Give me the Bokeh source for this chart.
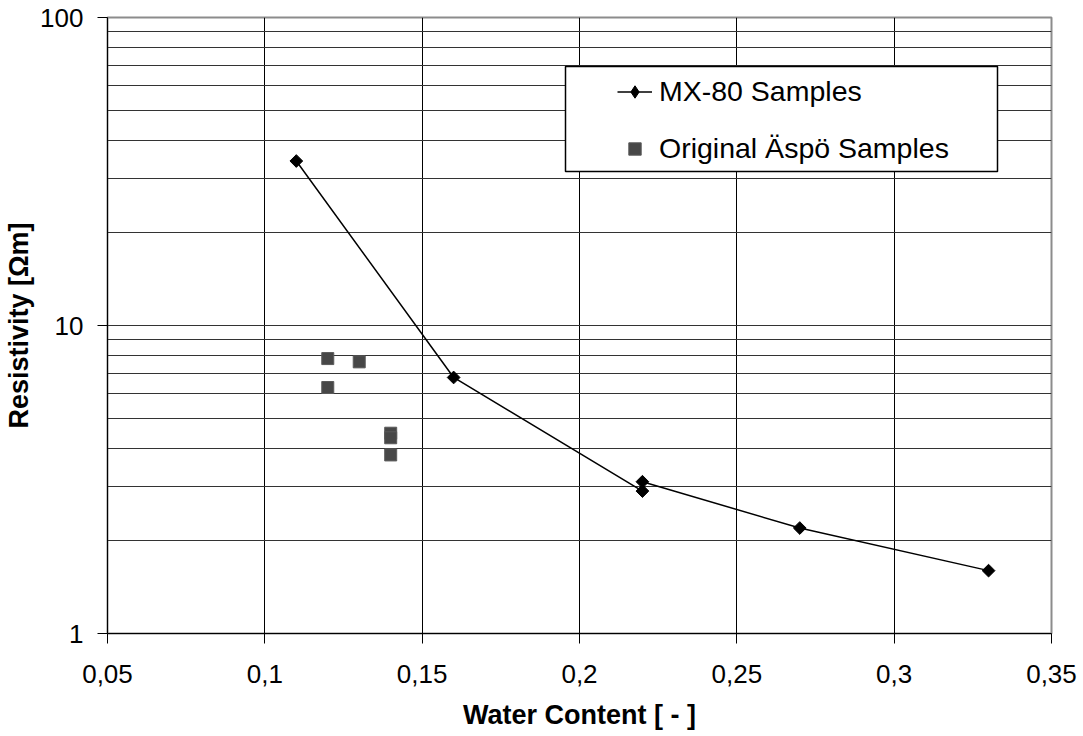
from bokeh.plotting import figure
from bokeh.models import (Range1d, FixedTicker, CustomJSTickFormatter, Legend,
                          LegendItem, BoxAnnotation)
from bokeh.embed import file_html
from bokeh.resources import INLINE

# ---- data ----
mx80_water = [0.11, 0.16, 0.22, 0.22, 0.27, 0.33]
mx80_resistivity = [34.2, 6.78, 2.90, 3.11, 2.20, 1.60]

aspo_water = [0.12, 0.12, 0.13, 0.14, 0.14, 0.14]
aspo_resistivity = [7.81, 6.29, 7.62, 4.47, 4.32, 3.80]

x_ticks = [0.05, 0.10, 0.15, 0.20, 0.25, 0.30, 0.35]
x_tick_labels = ["0,05", "0,1", "0,15", "0,2", "0,25", "0,3", "0,35"]
y_ticks = [1, 10, 100]
y_tick_labels = ["1", "10", "100"]
y_minor_ticks = [2, 3, 4, 5, 6, 7, 8, 9, 20, 30, 40, 50, 60, 70, 80, 90]

series_labels = ["MX-80 Samples", "Original Äspö Samples"]
x_title = "Water Content [ - ]"
y_title = "Resistivity [Ωm]"

FONT = "Liberation Sans"

p = figure(width=1083, height=736, output_backend="svg", toolbar_location=None,
           y_axis_type="log",
           x_range=Range1d(x_ticks[0], x_ticks[-1]),
           y_range=Range1d(y_ticks[0], y_ticks[-1]),
           min_border_left=107, min_border_right=32,
           min_border_top=17, min_border_bottom=103)
p.background_fill_color = "white"
p.border_fill_color = "white"
p.outline_line_color = "#8c8c8c"
p.outline_line_width = 2

lookup_code = """
for (let i = 0; i < tvals.length; i++) {
  if (Math.abs(tvals[i] - tick) < 1e-9 * Math.max(1, Math.abs(tick))) return tlabels[i];
}
return '';
"""
p.xaxis.ticker = FixedTicker(ticks=x_ticks)
p.xaxis.formatter = CustomJSTickFormatter(args=dict(tvals=x_ticks, tlabels=x_tick_labels), code=lookup_code)
p.yaxis.ticker = FixedTicker(ticks=y_ticks, minor_ticks=y_minor_ticks)
p.yaxis.formatter = CustomJSTickFormatter(args=dict(tvals=y_ticks, tlabels=y_tick_labels), code=lookup_code)

for ax in (p.xaxis[0], p.yaxis[0]):
    ax.axis_line_color = "black"
    ax.axis_line_width = 1
    ax.major_tick_line_color = "black"
    ax.major_tick_out = 10
    ax.major_tick_in = 0
    ax.minor_tick_line_color = None
    ax.major_label_text_font = FONT
    ax.major_label_text_font_size = "26px"
    ax.major_label_text_color = "black"
    ax.axis_label_text_font = FONT
    ax.axis_label_text_font_size = "27px"
    ax.axis_label_text_font_style = "bold"
    ax.axis_label_text_color = "black"

p.xaxis.axis_label = x_title
p.yaxis.axis_label = y_title
p.xaxis.major_label_standoff = 21
p.xaxis.axis_label_standoff = 14
p.yaxis.major_label_standoff = 14
p.yaxis.axis_label_standoff = 3

p.xgrid.grid_line_color = "black"
p.xgrid.grid_line_width = 1
p.ygrid.grid_line_color = "#333333"
p.ygrid.grid_line_width = 1
p.ygrid.minor_grid_line_color = "#333333"
p.ygrid.minor_grid_line_width = 1

line_r = p.line(mx80_water, mx80_resistivity, line_color="black", line_width=1.5)
diam_r = p.scatter(mx80_water, mx80_resistivity, marker="square", angle=0.785398,
                   size=9, fill_color="black", line_color="black")
sq_r = p.scatter(aspo_water, aspo_resistivity, marker="square", size=12,
                 fill_color="#474747", line_color="#5a5a5a", line_width=1)
# hidden proxy of the same points, used only so the key shows a diamond
legend_diam = p.scatter(mx80_water, mx80_resistivity, marker="diamond", size=15,
                        fill_color="black", line_color="black", visible=False)

box = BoxAnnotation(left=458, right=890, bottom=462, top=567,
                    left_units="screen", right_units="screen",
                    bottom_units="screen", top_units="screen",
                    fill_color="white", fill_alpha=1.0,
                    line_color="black", line_width=1.5, line_alpha=1.0)
p.add_layout(box)

legend = Legend(items=[LegendItem(label=series_labels[0], renderers=[line_r, legend_diam]),
                       LegendItem(label=series_labels[1], renderers=[sq_r])],
                location=(510, 468), padding=0, margin=0, spacing=24,
                glyph_width=35, glyph_height=31, label_standoff=7,
                label_height=31, inactive_fill_alpha=0,
                label_text_font=FONT, label_text_font_size="28.5px",
                label_text_color="black",
                border_line_color=None, background_fill_alpha=0)
p.add_layout(legend)

open("out.html", "w").write(file_html(p, INLINE))
